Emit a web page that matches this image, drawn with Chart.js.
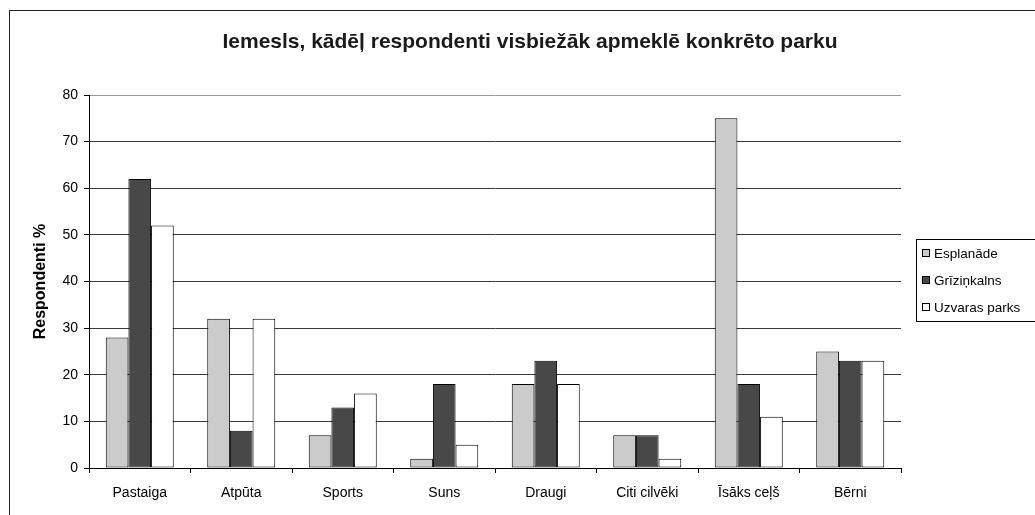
<!DOCTYPE html>
<html>
<head>
<meta charset="utf-8">
<script src="https://cdn.jsdelivr.net/npm/chart.js@4"></script>
<style>
    body { margin: 0; background: #fff; }
    #wrap { width: 1035px; height: 515px; }
</style>
</head>
<body>
<div id="wrap"><canvas id="parkChart" width="1035" height="515"></canvas></div>
<script>
// Data
const categories = ['Pastaiga', 'Atpūta', 'Sports', 'Suns', 'Draugi', 'Citi cilvēki', 'Īsāks ceļš', 'Bērni'];
const esplanade = [28, 32, 7, 2, 18, 7, 75, 25];
const grizinkalns = [62, 8, 13, 18, 23, 7, 18, 23];
const uzvarasParks = [52, 32, 16, 5, 18, 2, 11, 23];
const seriesNames = ['Esplanāde', 'Grīziņkalns', 'Uzvaras parks'];
const yTicks = [0, 10, 20, 30, 40, 50, 60, 70, 80];

const chartTitle = 'Iemesls, kādēļ respondenti visbiežāk apmeklē konkrēto parku';
const fontFamily = '"Liberation Sans", Arial, sans-serif';

Chart.defaults.font.family = fontFamily;
Chart.defaults.color = '#000';

// Outer frame, title and the boxed legend on the right
const frameAndLegend = {
    id: 'frameAndLegend',
    afterDraw: function(chart) {
        const ctx = chart.ctx;
        ctx.save();
        ctx.strokeStyle = '#222';
        ctx.lineWidth = 1;
        ctx.strokeRect(9.5, 10.5, 1100, 600);

        ctx.fillStyle = '#1a1a1a';
        ctx.font = 'bold 21px ' + fontFamily;
        ctx.textAlign = 'center';
        ctx.textBaseline = 'middle';
        ctx.fillText(chartTitle, 530, 42);

        // legend
        ctx.strokeStyle = '#000';
        ctx.strokeRect(916.5, 239.5, 200, 82);
        ctx.font = '13.5px ' + fontFamily;
        ctx.textAlign = 'left';
        chart.data.datasets.forEach(function(ds, i) {
            const y = 253 + i * 27;
            ctx.fillStyle = ds.backgroundColor;
            ctx.fillRect(922.5, y - 3.5, 7, 7);
            ctx.strokeStyle = '#000';
            ctx.strokeRect(922.5, y - 3.5, 7, 7);
            ctx.fillStyle = '#000';
            ctx.fillText(ds.label, 934, y + 1);
        });
        ctx.restore();
    }
};

new Chart(document.getElementById('parkChart'), {
    type: 'bar',
    data: {
        labels: categories,
        datasets: [{
            label: seriesNames[0],
            data: esplanade,
            backgroundColor: '#cbcbcb'
        }, {
            label: seriesNames[1],
            data: grizinkalns,
            backgroundColor: '#484848'
        }, {
            label: seriesNames[2],
            data: uzvarasParks,
            backgroundColor: '#ffffff'
        }]
    },
    options: {
        responsive: false,
        animation: false,
        datasets: {
            bar: {
                borderColor: '#000',
                borderWidth: 1,
                borderSkipped: false,
                categoryPercentage: 0.67,
                barPercentage: 1.0
            }
        },
        layout: {
            padding: { left: 29, right: 134, top: 95, bottom: 0 }
        },
        plugins: {
            legend: { display: false },
            title: { display: false },
            tooltip: { enabled: false }
        },
        scales: {
            x: {
                afterFit: function(scale) { scale.height = 47; },
                border: { color: '#000', width: 1 },
                grid: {
                    offset: true,
                    drawOnChartArea: true,
                    tickLength: 5,
                    tickColor: '#000',
                    color: function(context) {
                        return context.index === categories.length ? '#999' : 'rgba(0,0,0,0)';
                    }
                },
                ticks: {
                    padding: 12,
                    font: { size: 14 },
                    maxRotation: 0,
                    autoSkip: false
                }
            },
            y: {
                min: 0,
                max: 80,
                afterFit: function(scale) { scale.width = 60; },
                afterBuildTicks: function(scale) {
                    scale.ticks = yTicks.map(function(v) { return { value: v }; });
                },
                border: { color: '#000', width: 1 },
                grid: {
                    tickLength: 5,
                    tickColor: '#000',
                    color: function(context) {
                        return context.tick && context.tick.value === 80 ? '#999' : '#3a3a3a';
                    }
                },
                ticks: {
                    padding: 6,
                    font: { size: 14 }
                },
                title: {
                    display: true,
                    text: 'Respondenti %',
                    font: { size: 16, weight: 'bold' },
                    padding: { top: 2, bottom: 0 }
                }
            }
        }
    },
    plugins: [frameAndLegend]
});
</script>
</body>
</html>
